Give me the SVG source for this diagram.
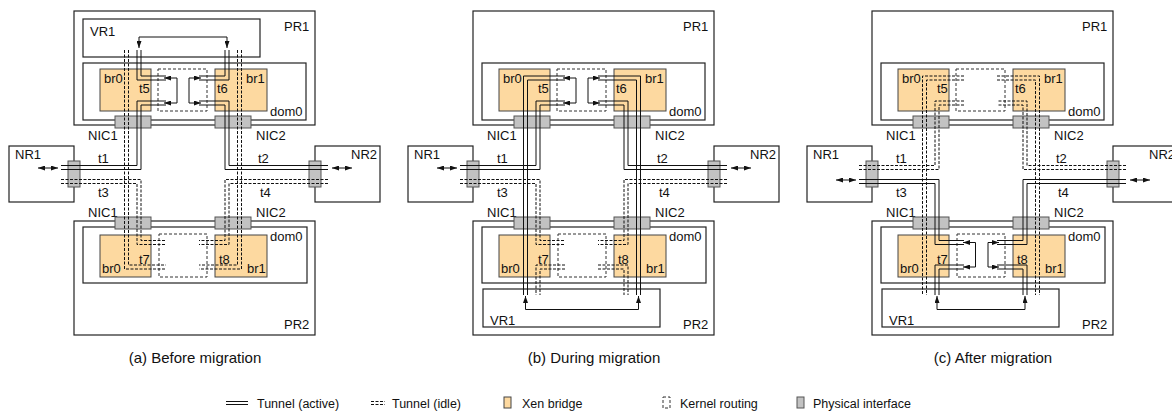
<svg xmlns="http://www.w3.org/2000/svg" width="1172" height="413" viewBox="0 0 1172 413">
<style>
.bg{fill:#fff}
.box{fill:#fff;stroke:#222;stroke-width:1.2}
.dom{fill:none;stroke:#222;stroke-width:1.2}
.br{fill:#fdd9a0;stroke:#444;stroke-width:1}
.kr{fill:none;stroke:#333;stroke-width:1;stroke-dasharray:3 2}
.nic{fill:#c2c2c2;stroke:#555;stroke-width:1}
.ts{fill:none;stroke:#111;stroke-width:1}
.td{fill:none;stroke:#111;stroke-width:1;stroke-dasharray:3 1.5}
.ar{fill:none;stroke:#111;stroke-width:1;marker-start:url(#ah);marker-end:url(#ah)}
text{font-family:"Liberation Sans",Arial,sans-serif;fill:#111}
.lbl{font-size:13px}
.cap{font-size:15px;text-anchor:middle}
.leg{font-size:12.5px}
</style>
<defs>
<marker id="ah" viewBox="0 0 7 5" refX="7" refY="2.5" markerWidth="7" markerHeight="5" markerUnits="userSpaceOnUse" orient="auto-start-reverse"><path d="M0,0 L7,2.5 L0,5 z" fill="#111"/></marker>
</defs>
<rect class="bg" x="0" y="0" width="1172" height="413"/>

<!-- ================= Panel (a) ================= -->
<g id="panel-a">
<g id="a-PR1"><rect class="box" x="74" y="11" width="241" height="114"/><text class="lbl" x="284" y="31">PR1</text></g>
<g id="a-VR1"><rect class="box" x="83" y="19" width="177" height="38"/><text class="lbl" x="90" y="36">VR1</text></g>
<g id="a-dom0-PR1"><rect class="dom" x="83" y="63" width="223" height="57"/><text class="lbl" x="270" y="116">dom0</text></g>
<g id="a-br0-PR1"><rect class="br" x="100" y="69" width="51" height="42"/><text class="lbl" x="104" y="83">br0</text></g>
<g id="a-br1-PR1"><rect class="br" x="215" y="69" width="52" height="42"/><text class="lbl" x="246" y="83">br1</text></g>
<g id="a-kr-PR1"><rect class="kr" x="158" y="69" width="49" height="42"/></g>
<g id="a-NIC1-PR1"><rect class="nic" x="115" y="116" width="36" height="12"/><text class="lbl" x="88" y="140">NIC1</text></g>
<g id="a-NIC2-PR1"><rect class="nic" x="215" y="116" width="36" height="12"/><text class="lbl" x="256" y="140">NIC2</text></g>
<g id="a-NR1"><rect class="box" x="9" y="146" width="65" height="56"/><text class="lbl" x="15" y="159">NR1</text><rect class="nic" x="68" y="161" width="12" height="26"/></g>
<g id="a-NR2"><rect class="box" x="315" y="146" width="65" height="56"/><text class="lbl" x="351" y="159">NR2</text><rect class="nic" x="309" y="161" width="12" height="26"/></g>
<g id="a-PR2"><rect class="box" x="74" y="221" width="241" height="114"/><text class="lbl" x="284" y="329">PR2</text></g>
<g id="a-dom0-PR2"><rect class="dom" x="83" y="227" width="224" height="56"/><text class="lbl" x="270" y="241">dom0</text></g>
<g id="a-br0-PR2"><rect class="br" x="100" y="235" width="51" height="42"/><text class="lbl" x="102" y="273">br0</text></g>
<g id="a-br1-PR2"><rect class="br" x="215" y="235" width="52" height="42"/><text class="lbl" x="247" y="273">br1</text></g>
<g id="a-kr-PR2"><rect class="kr" x="159" y="234" width="48" height="43"/></g>
<g id="a-NIC1-PR2"><text class="lbl" x="88" y="217">NIC1</text><rect class="nic" x="115" y="217" width="36" height="12"/></g>
<g id="a-NIC2-PR2"><text class="lbl" x="256" y="217">NIC2</text><rect class="nic" x="215" y="217" width="36" height="12"/></g>
<g id="a-connectors">
<path class="ts" d="M141,50 V76 H166 M137,50 V80 H166"/>
<path class="ts" d="M229,50 V80 H199 M225,50 V76 H199"/>
<path class="ts" d="M61,165.5 H137 V101 H166 M61,169.5 H141 V105 H166"/>
<path class="ts" d="M328,169.5 H225 V105 H199 M328,165.5 H229 V101 H199"/>
<path class="td" d="M61,179.5 H141 V240.5 H166 M61,183.5 H137 V244.5 H166"/>
<path class="td" d="M328,183.5 H229 V244.5 H199 M328,179.5 H225 V240.5 H199"/>
<path class="td" d="M128.5,50 V265 H166 M124.5,50 V269 H166"/>
<path class="td" d="M241.5,50 V269 H199 M237.5,50 V265 H199"/>
<path class="ar" d="M139,48 V37 H227 V48"/>
<path class="ar" d="M164,78 H177 V103 H164"/>
<path class="ar" d="M201,78 H189 V103 H201"/>
<path class="ar" d="M38,168 H58"/>
<path class="ar" d="M332,168 H352"/>
<text class="lbl" x="98" y="163">t1</text>
<text class="lbl" x="258" y="163">t2</text>
<text class="lbl" x="98" y="197">t3</text>
<text class="lbl" x="260" y="197">t4</text>
<text class="lbl" x="139" y="93">t5</text>
<text class="lbl" x="217" y="93">t6</text>
<text class="lbl" x="139" y="264">t7</text>
<text class="lbl" x="219" y="264">t8</text>
</g>
<text class="cap" x="195" y="363">(a) Before migration</text>
</g>

<!-- ================= Panel (b) ================= -->
<g id="panel-b" transform="translate(399,0)">
<g id="b-PR1"><rect class="box" x="74" y="11" width="241" height="114"/><text class="lbl" x="284" y="31">PR1</text></g>
<g id="b-dom0-PR1"><rect class="dom" x="83" y="63" width="223" height="57"/><text class="lbl" x="270" y="116">dom0</text></g>
<g id="b-br0-PR1"><rect class="br" x="100" y="69" width="51" height="42"/><text class="lbl" x="104" y="83">br0</text></g>
<g id="b-br1-PR1"><rect class="br" x="215" y="69" width="52" height="42"/><text class="lbl" x="246" y="83">br1</text></g>
<g id="b-kr-PR1"><rect class="kr" x="158" y="69" width="49" height="42"/></g>
<g id="b-NIC1-PR1"><rect class="nic" x="115" y="116" width="36" height="12"/><text class="lbl" x="88" y="140">NIC1</text></g>
<g id="b-NIC2-PR1"><rect class="nic" x="215" y="116" width="36" height="12"/><text class="lbl" x="256" y="140">NIC2</text></g>
<g id="b-NR1"><rect class="box" x="9" y="146" width="65" height="56"/><text class="lbl" x="15" y="159">NR1</text><rect class="nic" x="68" y="161" width="12" height="26"/></g>
<g id="b-NR2"><rect class="box" x="315" y="146" width="65" height="56"/><text class="lbl" x="351" y="159">NR2</text><rect class="nic" x="309" y="161" width="12" height="26"/></g>
<g id="b-PR2"><rect class="box" x="74" y="221" width="241" height="114"/><text class="lbl" x="284" y="329">PR2</text></g>
<g id="b-dom0-PR2"><rect class="dom" x="83" y="227" width="224" height="56"/><text class="lbl" x="270" y="241">dom0</text></g>
<g id="b-br0-PR2"><rect class="br" x="100" y="235" width="51" height="42"/><text class="lbl" x="102" y="273">br0</text></g>
<g id="b-br1-PR2"><rect class="br" x="215" y="235" width="52" height="42"/><text class="lbl" x="247" y="273">br1</text></g>
<g id="b-kr-PR2"><rect class="kr" x="159" y="234" width="48" height="43"/></g>
<g id="b-VR1"><rect class="box" x="84" y="289" width="177" height="38"/><text class="lbl" x="91" y="325">VR1</text></g>
<g id="b-NIC1-PR2"><text class="lbl" x="88" y="217">NIC1</text><rect class="nic" x="115" y="217" width="36" height="12"/></g>
<g id="b-NIC2-PR2"><text class="lbl" x="256" y="217">NIC2</text><rect class="nic" x="215" y="217" width="36" height="12"/></g>
<g id="b-connectors">
<path class="ts" d="M166,80 H128.5 V295 M166,76 H124.5 V295"/>
<path class="ts" d="M199,76 H241.5 V295 M199,80 H237.5 V295"/>
<path class="ts" d="M61,165.5 H137 V101 H166 M61,169.5 H141 V105 H166"/>
<path class="ts" d="M328,169.5 H225 V105 H199 M328,165.5 H229 V101 H199"/>
<path class="td" d="M61,179.5 H141 V240.5 H166 M61,183.5 H137 V244.5 H166"/>
<path class="td" d="M328,183.5 H229 V244.5 H199 M328,179.5 H225 V240.5 H199"/>
<path class="td" d="M166,269 H141 V295 M166,265 H137 V295"/>
<path class="td" d="M199,265 H229 V295 M199,269 H225 V295"/>
<path class="ar" d="M126.5,296 V309.5 H239.5 V296"/>
<path class="ar" d="M164,78 H177 V103 H164"/>
<path class="ar" d="M201,78 H189 V103 H201"/>
<path class="ar" d="M38,168 H58"/>
<path class="ar" d="M332,168 H352"/>
<text class="lbl" x="98" y="163">t1</text>
<text class="lbl" x="258" y="163">t2</text>
<text class="lbl" x="98" y="197">t3</text>
<text class="lbl" x="260" y="197">t4</text>
<text class="lbl" x="139" y="93">t5</text>
<text class="lbl" x="217" y="93">t6</text>
<text class="lbl" x="139" y="264">t7</text>
<text class="lbl" x="219" y="264">t8</text>
</g>
<text class="cap" x="195" y="363">(b) During migration</text>
</g>

<!-- ================= Panel (c) ================= -->
<g id="panel-c" transform="translate(798,0)">
<g id="c-PR1"><rect class="box" x="74" y="11" width="241" height="114"/><text class="lbl" x="284" y="31">PR1</text></g>
<g id="c-dom0-PR1"><rect class="dom" x="83" y="63" width="223" height="57"/><text class="lbl" x="270" y="116">dom0</text></g>
<g id="c-br0-PR1"><rect class="br" x="100" y="69" width="51" height="42"/><text class="lbl" x="104" y="83">br0</text></g>
<g id="c-br1-PR1"><rect class="br" x="215" y="69" width="52" height="42"/><text class="lbl" x="246" y="83">br1</text></g>
<g id="c-kr-PR1"><rect class="kr" x="158" y="69" width="49" height="42"/></g>
<g id="c-NIC1-PR1"><rect class="nic" x="115" y="116" width="36" height="12"/><text class="lbl" x="88" y="140">NIC1</text></g>
<g id="c-NIC2-PR1"><rect class="nic" x="215" y="116" width="36" height="12"/><text class="lbl" x="256" y="140">NIC2</text></g>
<g id="c-NR1"><rect class="box" x="9" y="146" width="65" height="56"/><text class="lbl" x="15" y="159">NR1</text><rect class="nic" x="68" y="161" width="12" height="26"/></g>
<g id="c-NR2"><rect class="box" x="315" y="146" width="65" height="56"/><text class="lbl" x="351" y="159">NR2</text><rect class="nic" x="309" y="161" width="12" height="26"/></g>
<g id="c-PR2"><rect class="box" x="74" y="221" width="241" height="114"/><text class="lbl" x="284" y="329">PR2</text></g>
<g id="c-dom0-PR2"><rect class="dom" x="83" y="227" width="224" height="56"/><text class="lbl" x="270" y="241">dom0</text></g>
<g id="c-br0-PR2"><rect class="br" x="100" y="235" width="51" height="42"/><text class="lbl" x="102" y="273">br0</text></g>
<g id="c-br1-PR2"><rect class="br" x="215" y="235" width="52" height="42"/><text class="lbl" x="247" y="273">br1</text></g>
<g id="c-kr-PR2"><rect class="kr" x="159" y="234" width="48" height="43"/></g>
<g id="c-VR1"><rect class="box" x="84" y="289" width="177" height="38"/><text class="lbl" x="91" y="325">VR1</text></g>
<g id="c-NIC1-PR2"><text class="lbl" x="88" y="217">NIC1</text><rect class="nic" x="115" y="217" width="36" height="12"/></g>
<g id="c-NIC2-PR2"><text class="lbl" x="256" y="217">NIC2</text><rect class="nic" x="215" y="217" width="36" height="12"/></g>
<g id="c-connectors">
<path class="td" d="M166,80 H128.5 V295 M166,76 H124.5 V295"/>
<path class="td" d="M199,76 H241.5 V295 M199,80 H237.5 V295"/>
<path class="td" d="M61,165.5 H137 V101 H166 M61,169.5 H141 V105 H166"/>
<path class="td" d="M328,169.5 H225 V105 H199 M328,165.5 H229 V101 H199"/>
<path class="ts" d="M61,179.5 H141 V240.5 H166 M61,183.5 H137 V244.5 H166"/>
<path class="ts" d="M328,183.5 H229 V244.5 H199 M328,179.5 H225 V240.5 H199"/>
<path class="ts" d="M166,269 H141 V295 M166,265 H137 V295"/>
<path class="ts" d="M199,265 H229 V295 M199,269 H225 V295"/>
<path class="ar" d="M139,296 V309.5 H227 V296"/>
<path class="ar" d="M165,242.5 H177.5 V267 H165"/>
<path class="ar" d="M201,242.5 H190 V267 H201"/>
<path class="ar" d="M38,180 H58"/>
<path class="ar" d="M332,180 H352"/>
<text class="lbl" x="98" y="163">t1</text>
<text class="lbl" x="258" y="163">t2</text>
<text class="lbl" x="98" y="197">t3</text>
<text class="lbl" x="260" y="197">t4</text>
<text class="lbl" x="139" y="93">t5</text>
<text class="lbl" x="217" y="93">t6</text>
<text class="lbl" x="139" y="264">t7</text>
<text class="lbl" x="219" y="264">t8</text>
</g>
<text class="cap" x="195" y="363">(c) After migration</text>
</g>

<!-- ================= Legend ================= -->
<g id="legend">
<path class="ts" d="M226,401.5 H248 M226,404.5 H248"/>
<text class="leg" x="257" y="408">Tunnel (active)</text>
<path class="td" d="M371,401.5 H385 M371,404.5 H385"/>
<text class="leg" x="392" y="408">Tunnel (idle)</text>
<rect class="br" x="504" y="397" width="7" height="11"/>
<text class="leg" x="522" y="408">Xen bridge</text>
<rect class="kr" x="663" y="397" width="7" height="11"/>
<text class="leg" x="680" y="408">Kernel routing</text>
<rect class="nic" x="797" y="397" width="7" height="11"/>
<text class="leg" x="813" y="408">Physical interface</text>
</g>
</svg>
